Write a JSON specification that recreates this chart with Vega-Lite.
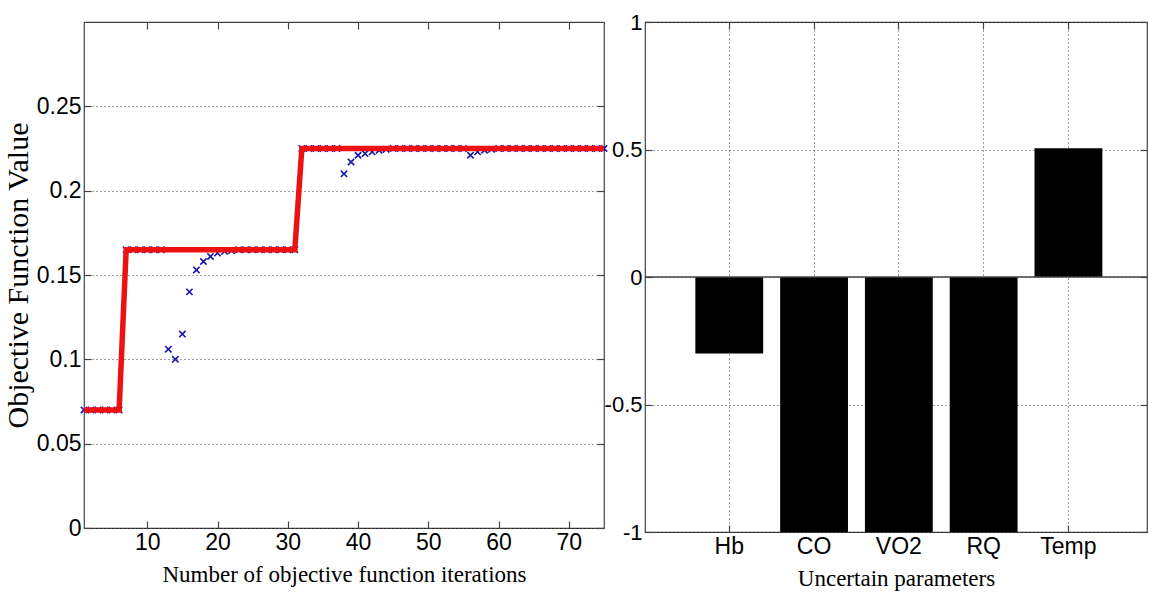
{
  "$schema": "https://vega.github.io/schema/vega-lite/v6.json",
  "autosize": {"type": "pad"},
  "padding": {"left": 2, "top": 10, "right": 0, "bottom": 0},
  "background": "white",
  "spacing": -13,
  "config": {
    "view": {"stroke": "#444", "strokeWidth": 1.2},
    "axis": {
      "labelFont": "Liberation Sans Narrow, Liberation Sans, Arial",
      "labelFontSize": 23,
      "labelColor": "#000",
      "labelFlush": false,
      "labelOverlap": false,
      "labelBound": false,
      "titleFont": "Liberation Serif",
      "titleFontWeight": "normal",
      "titleColor": "#000",
      "domain": false,
      "tickColor": "#444",
      "tickSize": -7,
      "tickWidth": 1.2,
      "labelPadding": 10,
      "gridColor": "#000",
      "gridDash": [1, 3],
      "gridOpacity": 0.75,
      "gridWidth": 1
    }
  },
  "datasets": {
    "iter": [
      {"it": 1, "v": 0.07, "best": 0.07},
      {"it": 2, "v": 0.07, "best": 0.07},
      {"it": 3, "v": 0.07, "best": 0.07},
      {"it": 4, "v": 0.07, "best": 0.07},
      {"it": 5, "v": 0.07, "best": 0.07},
      {"it": 6, "v": 0.07, "best": 0.07},
      {"it": 7, "v": 0.165, "best": 0.165},
      {"it": 8, "v": 0.165, "best": 0.165},
      {"it": 9, "v": 0.165, "best": 0.165},
      {"it": 10, "v": 0.165, "best": 0.165},
      {"it": 11, "v": 0.165, "best": 0.165},
      {"it": 12, "v": 0.165, "best": 0.165},
      {"it": 13, "v": 0.106, "best": 0.165},
      {"it": 14, "v": 0.1, "best": 0.165},
      {"it": 15, "v": 0.115, "best": 0.165},
      {"it": 16, "v": 0.14, "best": 0.165},
      {"it": 17, "v": 0.153, "best": 0.165},
      {"it": 18, "v": 0.158, "best": 0.165},
      {"it": 19, "v": 0.161, "best": 0.165},
      {"it": 20, "v": 0.163, "best": 0.165},
      {"it": 21, "v": 0.164, "best": 0.165},
      {"it": 22, "v": 0.1645, "best": 0.165},
      {"it": 23, "v": 0.165, "best": 0.165},
      {"it": 24, "v": 0.165, "best": 0.165},
      {"it": 25, "v": 0.165, "best": 0.165},
      {"it": 26, "v": 0.165, "best": 0.165},
      {"it": 27, "v": 0.165, "best": 0.165},
      {"it": 28, "v": 0.165, "best": 0.165},
      {"it": 29, "v": 0.165, "best": 0.165},
      {"it": 30, "v": 0.165, "best": 0.165},
      {"it": 31, "v": 0.165, "best": 0.165},
      {"it": 32, "v": 0.225, "best": 0.225},
      {"it": 33, "v": 0.225, "best": 0.225},
      {"it": 34, "v": 0.225, "best": 0.225},
      {"it": 35, "v": 0.225, "best": 0.225},
      {"it": 36, "v": 0.225, "best": 0.225},
      {"it": 37, "v": 0.225, "best": 0.225},
      {"it": 38, "v": 0.21, "best": 0.225},
      {"it": 39, "v": 0.217, "best": 0.225},
      {"it": 40, "v": 0.221, "best": 0.225},
      {"it": 41, "v": 0.222, "best": 0.225},
      {"it": 42, "v": 0.223, "best": 0.225},
      {"it": 43, "v": 0.224, "best": 0.225},
      {"it": 44, "v": 0.2245, "best": 0.225},
      {"it": 45, "v": 0.225, "best": 0.225},
      {"it": 46, "v": 0.225, "best": 0.225},
      {"it": 47, "v": 0.225, "best": 0.225},
      {"it": 48, "v": 0.225, "best": 0.225},
      {"it": 49, "v": 0.225, "best": 0.225},
      {"it": 50, "v": 0.225, "best": 0.225},
      {"it": 51, "v": 0.225, "best": 0.225},
      {"it": 52, "v": 0.225, "best": 0.225},
      {"it": 53, "v": 0.225, "best": 0.225},
      {"it": 54, "v": 0.225, "best": 0.225},
      {"it": 55, "v": 0.225, "best": 0.225},
      {"it": 56, "v": 0.221, "best": 0.225},
      {"it": 57, "v": 0.223, "best": 0.225},
      {"it": 58, "v": 0.224, "best": 0.225},
      {"it": 59, "v": 0.2245, "best": 0.225},
      {"it": 60, "v": 0.225, "best": 0.225},
      {"it": 61, "v": 0.225, "best": 0.225},
      {"it": 62, "v": 0.225, "best": 0.225},
      {"it": 63, "v": 0.225, "best": 0.225},
      {"it": 64, "v": 0.225, "best": 0.225},
      {"it": 65, "v": 0.225, "best": 0.225},
      {"it": 66, "v": 0.225, "best": 0.225},
      {"it": 67, "v": 0.225, "best": 0.225},
      {"it": 68, "v": 0.225, "best": 0.225},
      {"it": 69, "v": 0.225, "best": 0.225},
      {"it": 70, "v": 0.225, "best": 0.225},
      {"it": 71, "v": 0.225, "best": 0.225},
      {"it": 72, "v": 0.225, "best": 0.225},
      {"it": 73, "v": 0.225, "best": 0.225},
      {"it": 74, "v": 0.225, "best": 0.225},
      {"it": 75, "v": 0.225, "best": 0.225}
    ],
    "params": [
      {"param": "Hb", "value": -0.3},
      {"param": "CO", "value": -1},
      {"param": "VO2", "value": -1},
      {"param": "RQ", "value": -1},
      {"param": "Temp", "value": 0.505}
    ],
    "zero": [{"z": 0}]
  },
  "hconcat": [
    {
      "width": 520,
      "height": 506,
      "data": {"name": "iter"},
      "resolve": {"axis": {"x": "independent", "y": "independent"}},
      "layer": [
        {
          "mark": {"type": "point", "shape": "M-1,-1L1,1M-1,1L1,-1", "filled": false, "size": 40, "strokeWidth": 1.6, "color": "#1515a8", "opacity": 1},
          "encoding": {
            "x": {"field": "it", "type": "quantitative", "scale": {"domain": [1, 75], "nice": false, "zero": false},
                  "axis": {"values": [10, 20, 30, 40, 50, 60, 70], "grid": false, "title": "Number of objective function iterations", "titleFontSize": 23, "titlePadding": 9}},
            "y": {"field": "v", "type": "quantitative", "scale": {"domain": [0, 0.3], "nice": false},
                  "axis": {"values": [0, 0.05, 0.1, 0.15, 0.2, 0.25], "labelExpr": "'' + datum.value", "grid": true, "title": "Objective Function Value", "titleFontSize": 30, "titlePadding": 3}}
          }
        },
        {
          "mark": {"type": "line", "color": "#ee1111", "strokeWidth": 5.5},
          "encoding": {
            "x": {"field": "it", "type": "quantitative", "axis": null},
            "y": {"field": "best", "type": "quantitative", "axis": null}
          }
        },
        {
          "mark": {"type": "point", "opacity": 0},
          "encoding": {
            "x": {"field": "it", "type": "quantitative", "axis": {"orient": "top", "values": [10, 20, 30, 40, 50, 60, 70], "labels": false, "grid": false, "title": null}},
            "y": {"field": "v", "type": "quantitative", "axis": {"orient": "right", "values": [0, 0.05, 0.1, 0.15, 0.2, 0.25], "labels": false, "grid": false, "title": null}}
          }
        }
      ]
    },
    {
      "width": 502,
      "height": 510,
      "resolve": {"axis": {"x": "independent", "y": "independent"}},
      "layer": [
        {
          "data": {"name": "params"},
          "mark": {"type": "bar", "color": "#000"},
          "encoding": {
            "x": {"field": "param", "type": "nominal", "sort": null,
                  "scale": {"type": "band", "domain": ["Hb", "CO", "VO2", "RQ", "Temp"], "paddingInner": 0.2, "paddingOuter": 0.56, "align": 0.53},
                  "axis": {"grid": true, "labelAngle": 0, "title": "Uncertain parameters", "titleFontSize": 23, "titlePadding": 9}},
            "y": {"field": "value", "type": "quantitative", "scale": {"domain": [-1, 1], "nice": false},
                  "axis": {"values": [-1, -0.5, 0, 0.5, 1], "labelExpr": "'' + datum.value", "labelFontSize": 22, "grid": true, "title": null}}
          }
        },
        {
          "data": {"name": "zero"},
          "mark": {"type": "rule", "color": "#444", "strokeWidth": 1.5},
          "encoding": {
            "y": {"field": "z", "type": "quantitative", "axis": null}
          }
        },
        {
          "data": {"name": "params"},
          "mark": {"type": "point", "opacity": 0},
          "encoding": {
            "x": {"field": "param", "type": "nominal", "sort": null, "axis": {"orient": "top", "labels": false, "grid": false, "title": null}},
            "y": {"field": "value", "type": "quantitative", "axis": {"orient": "right", "values": [-1, -0.5, 0, 0.5, 1], "labels": false, "grid": false, "title": null}}
          }
        }
      ]
    }
  ]
}
